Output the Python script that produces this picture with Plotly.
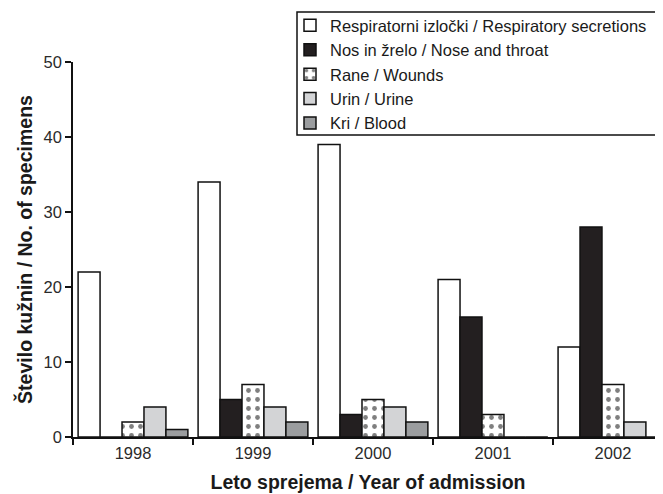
import plotly.graph_objects as go

years = ["1998", "1999", "2000", "2001", "2002"]
series_names = [
    "Respiratorni izločki / Respiratory secretions",
    "Nos in žrelo / Nose and throat",
    "Rane / Wounds",
    "Urin / Urine",
    "Kri / Blood",
]
respiratory = [22, 34, 39, 21, 12]
nose_throat = [0, 5, 3, 16, 28]
wounds = [2, 7, 5, 3, 7]
urine = [4, 4, 4, 0, 2]
blood = [1, 2, 2, 0, 0]

values = [respiratory, nose_throat, wounds, urine, blood]
fills = ["#ffffff", "#231f20", "#ffffff", "#d3d4d6", "#9b9d9f"]

# page body has an 8px margin: figure origin sits at window (8, 8)
PLOT_L, PLOT_R, PLOT_T, PLOT_B = 73, 663, 62, 437   # plot area in window pixels
PW, PH = PLOT_R - PLOT_L, PLOT_B - PLOT_T


def px(xw):
    return (xw - PLOT_L) / PW


def py(yw):
    return (PLOT_B - yw) / PH


fig = go.Figure()
for i, (name, vals, col) in enumerate(zip(series_names, values, fills)):
    marker = dict(color=col, line=dict(color="#111111", width=1.5))
    if i == 2:
        marker["pattern"] = dict(shape=".", fgcolor="#000000", bgcolor="#ffffff",
                                 size=9, solidity=0.22, fillmode="overlay")
    fig.add_trace(go.Bar(x=years, y=vals, name=name, marker=marker,
                         legendgroup=f"g{i}"))

# legend frame
fig.add_shape(type="rect", xref="paper", yref="paper",
              x0=px(297), x1=px(680), y0=py(135), y1=py(12),
              line=dict(color="#111111", width=1.5), fillcolor="white", layer="below")

fig.update_layout(
    width=655, height=486,
    margin=dict(l=PLOT_L - 8, r=0, t=PLOT_T - 8, b=486 - (PLOT_B - 8), autoexpand=False),
    paper_bgcolor="white", plot_bgcolor="rgba(0,0,0,0)",
    barmode="group", bargap=0.085, bargroupgap=0,
    font=dict(family="Liberation Sans, Arial, sans-serif", size=16, color="#2a2a2a"),
    legend=dict(
        x=px(290), y=py(8), xanchor="left", yanchor="top",
        borderwidth=0, bgcolor="rgba(0,0,0,0)",
        font=dict(size=16.5, color="#1a1a1a"),
        traceorder="grouped", tracegroupgap=0,
        itemwidth=30,
    ),
    xaxis=dict(
        type="category", range=[-0.5, 4.417],
        showline=True, linecolor="#111111", linewidth=1.5,
        ticks="outside", tickson="boundaries", ticklen=6, tickcolor="#111111", tickwidth=1.5,
        tickfont=dict(size=16.5, color="#2a2a2a"),
        title=dict(text="<b>Leto sprejema / Year of admission</b>",
                   font=dict(size=19.5, color="#1a1a1a"), standoff=15),
        showgrid=False, zeroline=False,
    ),
    yaxis=dict(
        range=[0, 50], tickvals=[0, 10, 20, 30, 40, 50],
        showline=True, linecolor="#111111", linewidth=1.5,
        ticks="outside", ticklen=6, tickcolor="#111111", tickwidth=1.5,
        tickfont=dict(size=16.5, color="#2a2a2a"),
        title=dict(text="<b>Število kužnin / No. of specimens</b>",
                   font=dict(size=19.5, color="#1a1a1a"), standoff=6),
        showgrid=False, zeroline=False,
    ),
)

fig.write_html("out.html")
